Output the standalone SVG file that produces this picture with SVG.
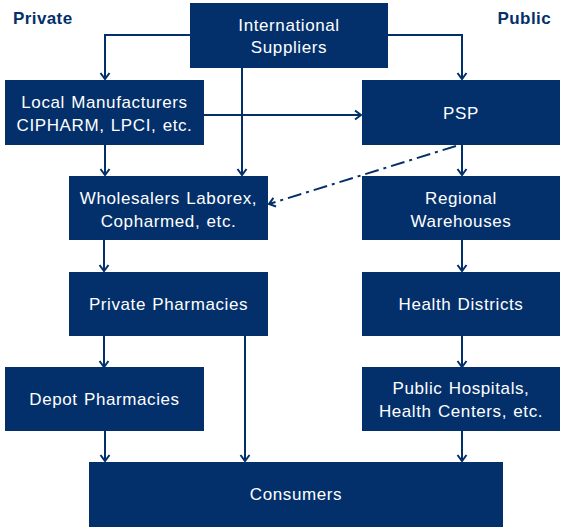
<svg xmlns="http://www.w3.org/2000/svg" width="562" height="527" viewBox="0 0 562 527">
  <style>
    .box { fill: #03306b; }
    .lbl { fill: #ffffff; font-family: "Liberation Sans", Arial, sans-serif; font-size: 17px; letter-spacing: 0.6px; word-spacing: 1px; text-anchor: middle; }
    .hdr { fill: #03306b; font-family: "Liberation Sans", Arial, sans-serif; font-size: 17px; font-weight: bold; letter-spacing: 0.4px; }
    .edge { fill: none; stroke: #03306b; stroke-width: 2; }
    .dash { stroke-dasharray: 14 5 3 5; }
  </style>
  <defs>
    <marker id="arrow" markerWidth="12" markerHeight="12" refX="9" refY="6" orient="auto" markerUnits="userSpaceOnUse">
      <path d="M3,1.5 L9,6 L3,10.5" fill="none" stroke="#03306b" stroke-width="2"/>
    </marker>
  </defs>
  <rect width="562" height="527" fill="#ffffff"/>

  <text class="hdr" x="13" y="24">Private</text>
  <text class="hdr" x="551" y="24" text-anchor="end">Public</text>

  <g id="connectors">
    <path class="edge" d="M190,35 H105 V79" marker-end="url(#arrow)"/>
    <path class="edge" d="M388,35 H462 V79" marker-end="url(#arrow)"/>
    <path class="edge" d="M242,68 V175" marker-end="url(#arrow)"/>
    <path class="edge" d="M204,115 H361" marker-end="url(#arrow)"/>
    <path class="edge" d="M105,145 V175" marker-end="url(#arrow)"/>
    <path class="edge" d="M462,145 V175" marker-end="url(#arrow)"/>
    <path class="edge dash" d="M456,146 L269,204" marker-end="url(#arrow)"/>
    <path class="edge" d="M104,240 V271" marker-end="url(#arrow)"/>
    <path class="edge" d="M462,240 V271" marker-end="url(#arrow)"/>
    <path class="edge" d="M104,336 V367" marker-end="url(#arrow)"/>
    <path class="edge" d="M462,336 V367" marker-end="url(#arrow)"/>
    <path class="edge" d="M245,336 V461" marker-end="url(#arrow)"/>
    <path class="edge" d="M105,431 V461" marker-end="url(#arrow)"/>
    <path class="edge" d="M462,431 V461" marker-end="url(#arrow)"/>
  </g>

  <g id="intl">
    <rect class="box" x="190" y="3" width="198" height="65"/>
    <text class="lbl" x="289" y="31">International</text>
    <text class="lbl" x="289" y="53">Suppliers</text>
  </g>
  <g id="local">
    <rect class="box" x="5" y="80" width="199" height="65"/>
    <text class="lbl" x="104.5" y="108">Local Manufacturers</text>
    <text class="lbl" x="104.5" y="131">CIPHARM, LPCI, etc.</text>
  </g>
  <g id="psp">
    <rect class="box" x="362" y="80" width="198" height="65"/>
    <text class="lbl" x="461" y="119">PSP</text>
  </g>
  <g id="wholesalers">
    <rect class="box" x="69" y="176" width="199" height="64"/>
    <text class="lbl" x="168.5" y="204">Wholesalers Laborex,</text>
    <text class="lbl" x="168.5" y="227">Copharmed, etc.</text>
  </g>
  <g id="regional">
    <rect class="box" x="362" y="176" width="198" height="64"/>
    <text class="lbl" x="461" y="204">Regional</text>
    <text class="lbl" x="461" y="227">Warehouses</text>
  </g>
  <g id="private-pharmacies">
    <rect class="box" x="69" y="272" width="199" height="64"/>
    <text class="lbl" x="168.5" y="310">Private Pharmacies</text>
  </g>
  <g id="health-districts">
    <rect class="box" x="362" y="272" width="198" height="64"/>
    <text class="lbl" x="461" y="310">Health Districts</text>
  </g>
  <g id="depot">
    <rect class="box" x="5" y="367" width="199" height="64"/>
    <text class="lbl" x="104.5" y="405">Depot Pharmacies</text>
  </g>
  <g id="public-hospitals">
    <rect class="box" x="362" y="367" width="198" height="64"/>
    <text class="lbl" x="461" y="394">Public Hospitals,</text>
    <text class="lbl" x="461" y="417">Health Centers, etc.</text>
  </g>
  <g id="consumers">
    <rect class="box" x="89" y="462" width="414" height="65"/>
    <text class="lbl" x="296" y="500">Consumers</text>
  </g>
</svg>
